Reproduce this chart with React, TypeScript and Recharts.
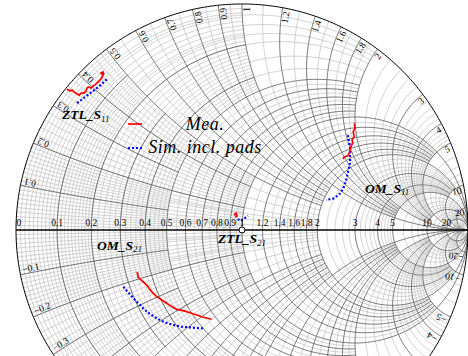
import React from 'react';
import { ComposedChart, Line, XAxis, YAxis, ReferenceDot } from 'recharts';

// reflection coefficients, [Re, Im]
const ztlS11Mea = [[-0.774, 0.624], [-0.761, 0.615], [-0.752, 0.619], [-0.743, 0.611], [-0.730, 0.602], [-0.721, 0.597], [-0.712, 0.606], [-0.699, 0.606], [-0.690, 0.615], [-0.686, 0.628], [-0.677, 0.633], [-0.668, 0.628], [-0.659, 0.637], [-0.650, 0.642], [-0.642, 0.650], [-0.633, 0.659], [-0.624, 0.668], [-0.619, 0.677], [-0.615, 0.686], [-0.624, 0.695], [-0.615, 0.699], [-0.611, 0.686]];
const ztlS11Sim = [[-0.730, 0.562], [-0.712, 0.575], [-0.695, 0.588], [-0.677, 0.602], [-0.659, 0.615], [-0.642, 0.628], [-0.624, 0.642], [-0.611, 0.655], [-0.597, 0.668]];
const omS11Mea = [[0.497, 0.472], [0.500, 0.450], [0.492, 0.435], [0.496, 0.413], [0.487, 0.398], [0.490, 0.385], [0.482, 0.369], [0.478, 0.354], [0.475, 0.339], [0.466, 0.327], [0.451, 0.322], [0.448, 0.313]];
const omS11Sim = [[0.469, 0.420], [0.473, 0.394], [0.478, 0.367], [0.478, 0.332], [0.478, 0.296], [0.469, 0.257], [0.460, 0.217], [0.447, 0.181], [0.429, 0.155], [0.403, 0.139], [0.372, 0.133]];
const ztlS21Mea = [[-0.035, 0.066], [-0.027, 0.075], [-0.022, 0.062], [-0.031, 0.058]];
const ztlS21Sim = [[-0.018, 0.049], [-0.009, 0.040], [0.000, 0.044], [0.013, 0.053], [0.027, 0.062]];
const omS21Mea = [[-0.463, -0.185], [-0.460, -0.207], [-0.444, -0.224], [-0.422, -0.243], [-0.400, -0.273], [-0.377, -0.295], [-0.355, -0.310], [-0.333, -0.324], [-0.311, -0.339], [-0.289, -0.351], [-0.260, -0.357], [-0.230, -0.366], [-0.200, -0.376], [-0.171, -0.386], [-0.134, -0.395]];
const omS21Sim = [[-0.525, -0.251], [-0.503, -0.277], [-0.481, -0.302], [-0.459, -0.324], [-0.437, -0.347], [-0.407, -0.372], [-0.377, -0.391], [-0.341, -0.409], [-0.304, -0.420], [-0.267, -0.428], [-0.230, -0.431], [-0.200, -0.434], [-0.171, -0.435]];

// tick labels
const realTicks = [0, 0.1, 0.2, 0.3, 0.4, 0.5, 0.6, 0.7, 0.8, 0.9, 1, 1.2, 1.4, 1.6, 1.8, 2, 3, 4, 5, 10, 20];
const imagTicks = [0.1, 0.2, 0.3, 0.4, 0.5, 0.6, 0.7, 0.8, 0.9, 1, 1.2, 1.4, 1.6, 1.8, 2, 3, 4, 5, 10, 20];

// minor grid runs: [from, to, step]
const minorRuns = [[0.01, 0.19, 0.01], [0.22, 0.48, 0.02], [0.55, 0.95, 0.05], [1.1, 1.9, 0.1], [2.2, 4.8, 0.2], [6, 9, 1], [12, 18, 2], [30, 50, 10]];

const W = 468, H = 356, CX = 242, CY = 230, PX = 226;
const X_DOMAIN = [-CX / PX, (W - CX) / PX];
const Y_DOMAIN = [(CY - H) / PX, CY / PX];
const SERIF = '"Liberation Serif", "DejaVu Serif", serif';

type Pt = { x: number; y: number | null };

function gamma(r: number, x: number): [number, number] {
  if (!isFinite(r) || !isFinite(x)) return [1, 0];
  const d = (r + 1) * (r + 1) + x * x;
  return [(r * r - 1 + x * x) / d, (2 * x) / d];
}

function arc(out: Pt[], cx: number, cy: number, rad: number, a0: number, a1: number) {
  const n = Math.max(4, Math.ceil((Math.abs(a1 - a0) * rad * PX) / 3));
  for (let i = 0; i <= n; i++) {
    const a = a0 + ((a1 - a0) * i) / n;
    out.push({ x: cx + rad * Math.cos(a), y: cy + rad * Math.sin(a) });
  }
  out.push({ x: cx + rad * Math.cos(a1), y: null });
}

function rCircle(out: Pt[], r: number, lim: number) {
  const c = r / (1 + r), rad = 1 / (1 + r);
  let a = 0;
  if (isFinite(lim)) {
    const [gx, gy] = gamma(r, lim);
    a = Math.atan2(gy, gx - c);
  }
  arc(out, c, 0, rad, a, 2 * Math.PI - a);
}

function xArc(out: Pt[], x: number, lim: number) {
  const cy = 1 / x, rad = 1 / Math.abs(x);
  const [x0, y0] = gamma(0, x);
  const [x1, y1] = gamma(lim, x);
  const b0 = Math.atan2(y0 - cy, x0 - 1);
  let d = Math.atan2(y1 - cy, x1 - 1) - b0;
  while (d > Math.PI) d -= 2 * Math.PI;
  while (d < -Math.PI) d += 2 * Math.PI;
  arc(out, 1, cy, rad, b0, b0 + d);
}

// how far each grid line runs before it stops on a crossing line
function minorLimit(v: number) {
  if (v < 0.2) {
    const k = Math.round(v * 100);
    return k % 5 === 0 ? 2 : k % 2 === 0 ? 1 : 0.5;
  }
  if (v < 0.5) return 1;
  if (v < 1) return 2;
  if (v < 2) return 5;
  if (v < 5) return 10;
  if (v < 10) return 20;
  if (v < 20) return 50;
  return Infinity;
}

function majorLimit(v: number) {
  if (v === 1 || v === 2 || v === 5 || v >= 10) return Infinity;
  if (v === 0.1 || v === 0.3) return 0.5;
  if (v < 0.5) return 1;
  if (v < 1) return 2;
  if (v < 2) return 5;
  return 10;
}

const minorGrid: Pt[] = [];
const majorGrid: Pt[] = [];
const outline: Pt[] = [];

for (const [a, b, s] of minorRuns) {
  for (let i = 0; a + i * s <= b + 1e-9; i++) {
    const v = Math.round((a + i * s) * 1000) / 1000;
    if (imagTicks.includes(v)) continue;
    const lim = minorLimit(v);
    rCircle(minorGrid, v, lim);
    xArc(minorGrid, v, lim);
    xArc(minorGrid, -v, lim);
  }
}
// the short majors carry on as light lines
for (const v of [0.1, 0.2, 0.3, 0.4]) {
  rCircle(minorGrid, v, 2);
  xArc(minorGrid, v, 2);
  xArc(minorGrid, -v, 2);
}
for (const v of imagTicks) {
  const lim = majorLimit(v);
  rCircle(majorGrid, v, lim);
  xArc(majorGrid, v, lim);
  xArc(majorGrid, -v, lim);
}
rCircle(outline, 0, Infinity);
const realAxis: Pt[] = [{ x: -1, y: 0 }, { x: 1, y: 0 }];

const toPts = (d: number[][]) => d.map(([x, y]) => ({ x, y }));
const fmt = (v: number) => (v < 0 ? '\u2212' + String(-v) : String(v));

const realLabels = realTicks.map((r) => ({ x: gamma(r, 0)[0], y: 0, v: r }));
const imagLabels = imagTicks
  .flatMap((v) => [v, -v])
  .map((v) => {
    const [x, y] = gamma(0, v);
    return { x, y, v };
  })
  .filter((p) => p.y > Y_DOMAIN[0] - 0.01);

const realLabel = (v: number) => (p: any) => (
  <text x={p.cx + (v === 0 ? 0.5 : 0)} y={p.cy - 4} textAnchor={v === 0 ? 'start' : 'middle'} fontFamily={SERIF} fontSize={9.5} fill="#000">
    {fmt(v)}
  </text>
);

const imagLabel = (x: number, y: number, v: number) => (p: any) => {
  const th = (Math.atan2(y, x) * 180) / Math.PI;
  if (v > 0) {
    return (
      <g transform={`translate(${p.cx},${p.cy}) rotate(${-th})`}>
        <text x={-3} y={7.5} textAnchor="end" fontFamily={SERIF} fontSize={9.5} fill="#000">{fmt(v)}</text>
      </g>
    );
  }
  return (
    <g transform={`translate(${p.cx},${p.cy}) rotate(${-(th + 180)})`}>
      <text x={3} y={-1.5} textAnchor="start" fontFamily={SERIF} fontSize={9.5} fill="#000">{fmt(v)}</text>
    </g>
  );
};

const tag = (name: string, sub: string) => (p: any) => (
  <text x={p.cx} y={p.cy} fontFamily={SERIF} fontStyle="italic" fontWeight="bold" fontSize={13.5} fill="#000">
    {name}
    <tspan fontSize={9} fontWeight="normal" dy={2.5}>{sub}</tspan>
  </text>
);

const mea = { stroke: '#ff0000', strokeWidth: 1.7 };
const sim = { stroke: '#0000ff', strokeWidth: 2.2, strokeDasharray: '2 2' };
const plain = { dot: false, activeDot: false, isAnimationActive: false } as const;

export default function App() {
  return (
    <div style={{ position: 'absolute', left: 0, top: 0, width: W, height: H }}>
      <ComposedChart width={W} height={H} margin={{ top: 0, right: 0, bottom: 0, left: 0 }}>
        <XAxis type="number" dataKey="x" domain={X_DOMAIN} allowDataOverflow hide />
        <YAxis type="number" dataKey="y" domain={Y_DOMAIN} allowDataOverflow hide />
        <Line data={minorGrid} dataKey="y" stroke="#c6c6c6" strokeWidth={0.8} {...plain} />
        <Line data={majorGrid} dataKey="y" stroke="#5a5a5a" strokeWidth={0.8} {...plain} />
        <Line data={outline} dataKey="y" stroke="#000" strokeWidth={1} {...plain} />
        <Line data={realAxis} dataKey="y" stroke="#000" strokeWidth={1.6} {...plain} />
        {realLabels.map((p) => (
          <ReferenceDot key={'r' + p.v} x={p.x} y={p.y} ifOverflow="visible" shape={realLabel(p.v)} />
        ))}
        {imagLabels.map((p) => (
          <ReferenceDot key={'i' + p.v} x={p.x} y={p.y} ifOverflow="visible" shape={imagLabel(p.x, p.y, p.v)} />
        ))}
        <Line data={toPts(ztlS11Sim)} dataKey="y" {...sim} {...plain} />
        <Line data={toPts(ztlS11Mea)} dataKey="y" {...mea} {...plain} />
        <Line data={toPts(omS11Sim)} dataKey="y" {...sim} {...plain} />
        <Line data={toPts(omS11Mea)} dataKey="y" {...mea} {...plain} />
        <Line data={toPts(ztlS21Sim)} dataKey="y" {...sim} {...plain} />
        <Line data={toPts(ztlS21Mea)} dataKey="y" {...mea} {...plain} />
        <Line data={toPts(omS21Sim)} dataKey="y" {...sim} {...plain} />
        <Line data={toPts(omS21Mea)} dataKey="y" {...mea} {...plain} />
        <ReferenceDot x={0} y={0} r={3} fill="#fff" stroke="#000" strokeWidth={1} />
        <ReferenceDot x={-0.796} y={0.491} ifOverflow="visible" shape={tag('ZTL_S', '11')} />
        <ReferenceDot x={0.544} y={0.164} ifOverflow="visible" shape={tag('OM_S', '11')} />
        <ReferenceDot x={-0.106} y={-0.058} ifOverflow="visible" shape={tag('ZTL_S', '21')} />
        <ReferenceDot x={-0.642} y={-0.088} ifOverflow="visible" shape={tag('OM_S', '21')} />
      </ComposedChart>
      <svg width={W} height={H} style={{ position: 'absolute', left: 0, top: 0, pointerEvents: 'none' }}>
        <line x1={128} x2={142} y1={124} y2={124} stroke="#ff0000" strokeWidth={1.7} />
        <text x={205} y={130} textAnchor="middle" fontFamily={SERIF} fontStyle="italic" fontSize={18} letterSpacing={0.5}>Mea.</text>
        <line x1={128} x2={142} y1={148} y2={148} stroke="#0000ff" strokeWidth={2.2} strokeDasharray="2 2" />
        <text x={205} y={153} textAnchor="middle" fontFamily={SERIF} fontStyle="italic" fontSize={18} letterSpacing={0.5}>Sim. incl. pads</text>
      </svg>
    </div>
  );
}
